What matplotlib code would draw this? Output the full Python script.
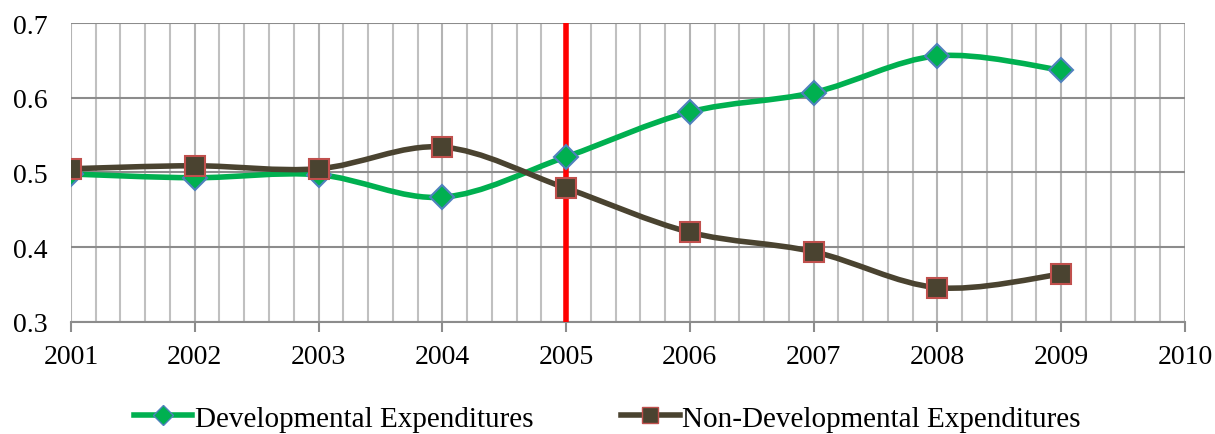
import numpy as np
import matplotlib.pyplot as plt
from matplotlib.path import Path
from matplotlib.patches import PathPatch
from matplotlib.lines import Line2D

plt.rcParams['font.family'] = ['Liberation Serif', 'DejaVu Serif']

years = [2001, 2002, 2003, 2004, 2005, 2006, 2007, 2008, 2009]
dev = [0.498, 0.493, 0.497, 0.467, 0.521, 0.581, 0.607, 0.656, 0.637]
nondev = [0.505, 0.509, 0.505, 0.534, 0.479, 0.420, 0.394, 0.346, 0.364]
ytick_vals = [0.3, 0.4, 0.5, 0.6, 0.7]
xtick_vals = list(range(2001, 2011))


def smooth_path(xs, ys):
    # bezier segments like excel's smoothed line
    p = np.column_stack([xs, ys]).astype(float)
    ext = np.vstack([p[0], p, p[-1]])
    verts = [p[0]]
    codes = [Path.MOVETO]
    for i in range(len(p) - 1):
        p0, p1, p2, p3 = ext[i], ext[i + 1], ext[i + 2], ext[i + 3]
        c1 = p1 + (p2 - p0) / 6.0
        c2 = p2 - (p3 - p1) / 6.0
        verts += [c1, c2, p2]
        codes += [Path.CURVE4] * 3
    return Path(verts, codes)


fig = plt.figure(figsize=(12.15, 4.35), dpi=100)
ax = fig.add_axes([0.0584, 0.2575, 0.9169, 0.6873])

green = '#00B050'
brown = '#4A4330'

ax.add_patch(PathPatch(smooth_path(years, dev), fill=False, ec=green, lw=4, zorder=3))
ax.add_patch(PathPatch(smooth_path(years, nondev), fill=False, ec=brown, lw=4, zorder=3))
ax.plot(years, dev, ls='none', marker='D', ms=12, mfc=green, mec='#4F81BD', mew=1.5, zorder=5)
ax.plot(years, nondev, ls='none', marker='s', ms=15, mfc=brown, mec='#C0504D', mew=1.5, zorder=5)

ax.axvline(2005, color='#FF0000', lw=4, zorder=4)

ax.set_xlim(2001, 2010)
ax.set_ylim(0.3, 0.7)
ax.set_xticks(xtick_vals)
ax.set_xticks(np.arange(2001, 2010.01, 0.2), minor=True)
ax.set_yticks(ytick_vals)
ax.set_yticklabels(['%.1f' % v for v in ytick_vals])
ax.grid(True, which='minor', axis='x', color='#C0C0C0', lw=1.5)
ax.grid(True, which='major', axis='x', color='#B4B4B4', lw=1.5)
ax.grid(True, which='major', axis='y', color='#8C8C8C', lw=1.5)
ax.tick_params(axis='x', which='minor', length=0)
ax.tick_params(axis='x', which='major', length=7, width=1.5, color='#8C8C8C', labelsize=20, pad=9)
ax.tick_params(axis='y', length=0, labelsize=20, pad=17)
for s in ['top', 'right', 'left']:
    ax.spines[s].set_visible(False)
ax.spines['bottom'].set_color('#8C8C8C')
ax.spines['bottom'].set_linewidth(1.5)
ax.set_axisbelow(True)

handles = [
    Line2D([], [], color=green, lw=4, marker='D', ms=10, mfc=green, mec='#4F81BD'),
    Line2D([], [], color=brown, lw=4, marker='s', ms=12, mfc=brown, mec='#C0504D'),
]
fig.legend(handles, ['Developmental Expenditures', 'Non-Developmental Expenditures'],
           loc='lower center', bbox_to_anchor=(0.5, -0.055), ncol=2, frameon=False,
           fontsize=21, handlelength=2.0, handletextpad=0.1, columnspacing=3.0)

fig.savefig('out.png', dpi=100)
